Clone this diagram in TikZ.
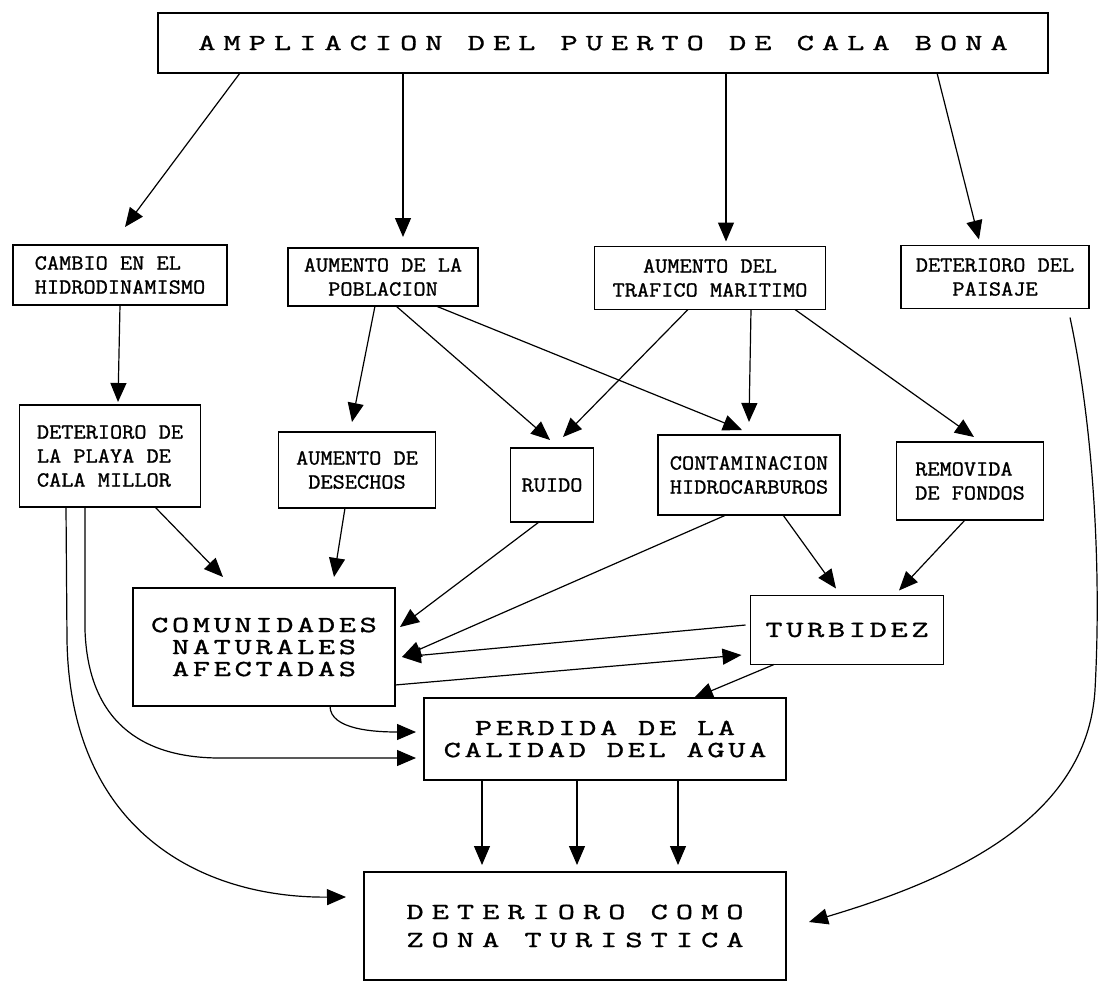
\documentclass[tikz,border=0pt]{standalone}
\usepackage{fontspec}
\setmainfont[FakeStretch=1.1,FakeBold=1.2]{Latin Modern Mono}
\newfontfamily\letragrande[FakeStretch=1.45,LetterSpace=16,FakeBold=1.4]{Latin Modern Mono}
\newfontfamily\letratitulo[FakeStretch=1.45,LetterSpace=35,FakeBold=1.4]{Latin Modern Mono}
\usetikzlibrary{arrows.meta,calc,positioning}
\tikzset{
	flecha/.style={-{Triangle[length=19pt,width=16pt]},line width=1.2pt},
}
\begin{document}
\begin{tikzpicture}[x=1pt,y=-1pt,
		caja/.style={draw,line width=1.6pt,inner sep=0pt,outer sep=0pt,align=center,
			font=\fontsize{21.5}{24}\selectfont},
		grande/.style={caja,font=\letragrande\fontsize{23}{22}\selectfont},
		titulo/.style={caja,font=\letratitulo\fontsize{23}{28}\selectfont}]
	\useasboundingbox (0,0) rectangle (1098,983);
	\node[titulo,minimum width=890pt,minimum height=60pt] (top) at (603,43) {AMPLIACION DEL PUERTO DE CALA BONA};
	\node[caja,align=left,minimum width=214pt,minimum height=60pt] (cambio) at (120,275) {CAMBIO EN EL\\HIDRODINAMISMO};
	\node[caja,minimum width=190pt,minimum height=58pt] (poblacion) at (383,277) {AUMENTO DE LA\\POBLACION};
	\node[caja,minimum width=231pt,minimum height=63pt] (trafico) at (710,278) {AUMENTO DEL\\TRAFICO MARITIMO};
	\node[caja,minimum width=188pt,minimum height=63pt] (paisaje) at (995,277) {DETERIORO DEL\\PAISAJE};
	\node[caja,align=left,minimum width=181pt,minimum height=102pt] (playa) at (110,456) {DETERIORO DE\\LA PLAYA DE\\CALA MILLOR};
	\node[caja,minimum width=157pt,minimum height=76pt] (desechos) at (357,470) {AUMENTO DE\\DESECHOS};
	\node[caja,minimum width=83pt,minimum height=74pt] (ruido) at (552,485) {RUIDO};
	\node[caja,align=left,minimum width=182pt,minimum height=80pt] (contam) at (749,475) {CONTAMINACION\\HIDROCARBUROS};
	\node[caja,align=left,minimum width=147pt,minimum height=78pt] (removida) at (970,481) {REMOVIDA\\DE FONDOS};
	\node[grande,minimum width=262pt,minimum height=118pt] (comun) at (264,647) {COMUNIDADES\\NATURALES\\AFECTADAS};
	\node[grande,minimum width=193pt,minimum height=69pt] (turb) at (847,630) {TURBIDEZ};
	\node[grande,minimum width=362pt,minimum height=82pt] (perdida) at (605,739) {PERDIDA DE LA\\CALIDAD DEL AGUA};
	\node[titulo,align=left,minimum width=422pt,minimum height=108pt] (zona) at (575,926) {DETERIORO COMO\\ZONA TURISTICA};

	\draw[flecha] ([shift={(-363,0)}]top.south) -- ([shift={(5,-18)}]cambio.north);
	\draw[flecha] ([shift={(-200,0)}]top.south) -- ([shift={(20,-11)}]poblacion.north);
	\draw[flecha] ([shift={(123,0)}]top.south) -- ([shift={(16,-5)}]trafico.north);
	\draw[flecha] ([shift={(334,0)}]top.south) -- ([shift={(-16,-6)}]paisaje.north);
	\draw[flecha] (cambio.south) -- ([shift={(8,-3)}]playa.north);
	\draw[flecha] ([shift={(-8,0)}]poblacion.south) -- ([shift={(-5,-10)}]desechos.north);
	\draw[flecha] ([shift={(13,0)}]poblacion.south) -- ([shift={(-2,-8)}]ruido.north);
	\draw[flecha] ([shift={(53,0)}]poblacion.south) -- ([shift={(-7,-5)}]contam.north);
	\draw[flecha] ([shift={(-22,0)}]trafico.south) -- ([shift={(11,-11)}]ruido.north);
	\draw[flecha] ([shift={(41,0)}]trafico.south) -- ([shift={(0,-13)}]contam.north);
	\draw[flecha] ([shift={(85,0)}]trafico.south) -- ([shift={(4,-5)}]removida.north);
	\draw[flecha] ([shift={(75,9)}]paisaje.south) .. controls (1092,420) and (1102,560) .. (1095,690)
		.. controls (1087,820) and (950,880) .. ([shift={(23,-4)}]zona.east);
	\draw[flecha] ([shift={(45,0)}]playa.south) -- ([shift={(-41,-11)}]comun.north);
	\draw[flecha] ([shift={(-12,0)}]desechos.south) -- ([shift={(70,-11)}]comun.north);
	\draw[flecha] ([shift={(-13,0)}]ruido.south) -- ([shift={(5,-20)}]comun.east);
	\draw[flecha] ([shift={(-23,0)}]contam.south) -- ([shift={(7,10)}]comun.east);
	\draw[flecha] ([shift={(-5,-5)}]turb.west) -- ([shift={(7,10)}]comun.east);
	\draw[flecha] ([shift={(0,38)}]comun.east) -- ([shift={(-9,25)}]turb.west);
	\draw[flecha] ([shift={(34,0)}]contam.south) -- ([shift={(-11,-7)}]turb.north);
	\draw[flecha] ([shift={(-5,0)}]removida.south) -- ([shift={(52,-5)}]turb.north);
	\draw[flecha] ([shift={(-73,0)}]turb.south) -- ([shift={(89,0)}]perdida.north);
	\draw[flecha] ([shift={(66,0)}]comun.south) .. controls +(0,24) and +(-40,0) .. ([shift={(-8,-7)}]perdida.west);
	\draw[flecha] ([shift={(-25,0)}]playa.south) -- (85,630) .. controls (88,720) and (140,758) .. (220,758)
		-- ([shift={(-8,19)}]perdida.west);
	\draw[flecha] ([shift={(-44,0)}]playa.south) -- (67,640) .. controls (70,830) and (200,898) .. ([shift={(-18,-29)}]zona.west);
	\foreach \dx in {-123,-28,73}
		\draw[flecha] ([xshift=\dx pt]perdida.south) -- ++(0,85);
\end{tikzpicture}
\end{document}
